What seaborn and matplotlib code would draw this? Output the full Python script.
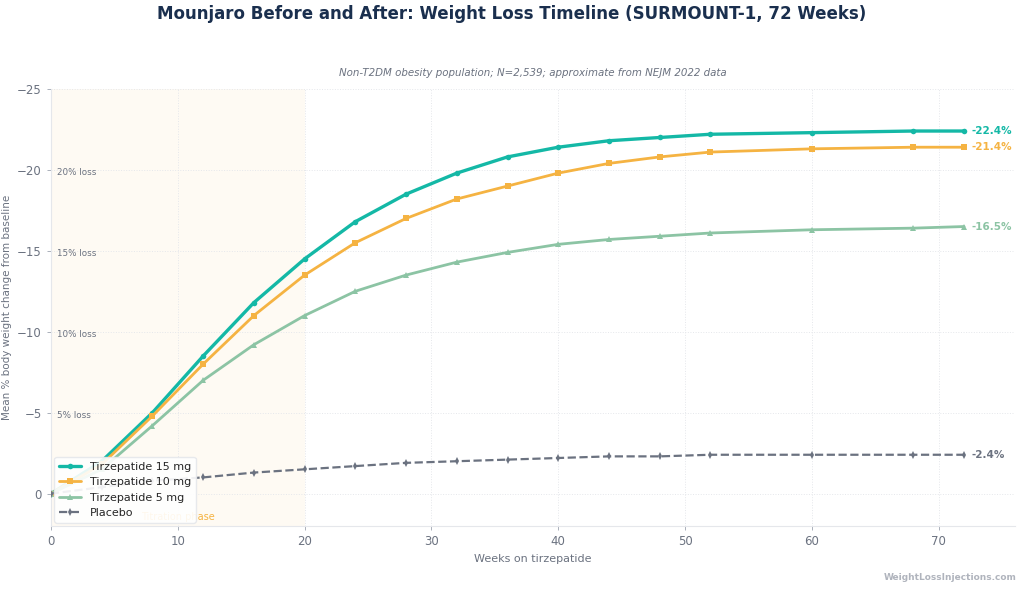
import matplotlib
matplotlib.use("Agg")
import matplotlib.pyplot as plt
import seaborn as sns
import pandas as pd

weeks = [0, 4, 8, 12, 16, 20, 24, 28, 32, 36, 40, 44, 48, 52, 60, 68, 72]
tirz15 = [0, -2.0, -5.0, -8.5, -11.8, -14.5, -16.8, -18.5, -19.8, -20.8, -21.4, -21.8, -22.0, -22.2, -22.3, -22.4, -22.4]
tirz10 = [0, -1.8, -4.8, -8.0, -11.0, -13.5, -15.5, -17.0, -18.2, -19.0, -19.8, -20.4, -20.8, -21.1, -21.3, -21.4, -21.4]
tirz5 = [0, -1.5, -4.2, -7.0, -9.2, -11.0, -12.5, -13.5, -14.3, -14.9, -15.4, -15.7, -15.9, -16.1, -16.3, -16.4, -16.5]
placebo = [0, -0.4, -0.8, -1.0, -1.3, -1.5, -1.7, -1.9, -2.0, -2.1, -2.2, -2.3, -2.3, -2.4, -2.4, -2.4, -2.4]
series_names = ["Tirzepatide 15 mg", "Tirzepatide 10 mg", "Tirzepatide 5 mg", "Placebo"]
end_labels = ["-22.4%", "-21.4%", "-16.5%", "-2.4%"]
loss_levels = [-5, -10, -15, -20]
loss_labels = ["5% loss", "10% loss", "15% loss", "20% loss"]

colors = ["#14b8a6", "#f5b342", "#8cc4a4", "#6b7280"]
markers = ["o", "s", "^", "d"]
styles = ["-", "-", "-", "--"]
widths = [2.4, 2.0, 2.0, 1.6]
msizes = [4, 5, 5, 4]

sns.set_theme(style="white")
plt.rcParams['font.family'] = ['DejaVu Sans']

fig = plt.figure(figsize=(10.24, 5.89), dpi=100)
ax = fig.add_axes([0.0498, 0.107, 0.9412, 0.742])

ax.axvspan(0, 20, color="#fdf3e1", alpha=0.4, lw=0, zorder=0)
ax.text(10, 1.45, "Titration phase", color="#f5b342", fontsize=7, ha="center", va="center", zorder=1)

for name, vals, c, m, ls, lw, ms in zip(series_names, [tirz15, tirz10, tirz5, placebo], colors, markers, styles, widths, msizes):
    df = pd.DataFrame({"week": weeks, "val": vals})
    sns.lineplot(data=df, x="week", y="val", ax=ax, color=c, marker=m, linestyle=ls,
                 linewidth=lw, markersize=ms, markeredgewidth=0, label=name, zorder=3)

for vals, lab, c in zip([tirz15, tirz10, tirz5, placebo], end_labels, colors):
    ax.text(weeks[-1] + 0.6, vals[-1], lab, color=c, fontsize=7.5, fontweight="bold", va="center", ha="left")

for lv, lab in zip(loss_levels, loss_labels):
    ax.text(0.5, lv + 0.15, lab, color="#6b7280", fontsize=6.3, va="center", ha="left")

ax.set_xlim(0, 76)
ax.set_ylim(2, -25)
ax.set_xticks([0, 10, 20, 30, 40, 50, 60, 70])
ax.set_yticks([-25, -20, -15, -10, -5, 0])
ax.grid(True, color="#e5e7eb", linestyle=":", linewidth=0.7)
for s in ["top", "right"]:
    ax.spines[s].set_visible(False)
for s in ["left", "bottom"]:
    ax.spines[s].set_color("#e5e7eb")
    ax.spines[s].set_linewidth(0.8)
ax.tick_params(axis="both", colors="#6b7280", labelsize=8.5, length=3, width=0.6, left=True, bottom=True, labelcolor="#6b7280")
ax.tick_params(axis="both", color="#9ca3af")
ax.set_xlabel("Weeks on tirzepatide", color="#6b7280", fontsize=8, labelpad=4)
ax.set_ylabel("Mean % body weight change from baseline", color="#6b7280", fontsize=7.5, labelpad=4)

leg = ax.legend(loc="lower left", fontsize=8, frameon=True, framealpha=0.9, edgecolor="#e5e7eb",
                borderaxespad=0.3, handlelength=2.0)

fig.text(0.5, 0.976, "Mounjaro Before and After: Weight Loss Timeline (SURMOUNT-1, 72 Weeks)",
         ha="center", va="center", fontsize=12, fontweight="bold", color="#1a2f4e")
fig.text(0.52, 0.876, "Non-T2DM obesity population; N=2,539; approximate from NEJM 2022 data",
         ha="center", va="center", fontsize=7.4, style="italic", color="#6b7280")
fig.text(0.993, 0.02, "WeightLossInjections.com", ha="right", va="center", fontsize=6.5,
         fontweight="bold", color="#b0b4bd")

fig.savefig("out.png", dpi=100)
